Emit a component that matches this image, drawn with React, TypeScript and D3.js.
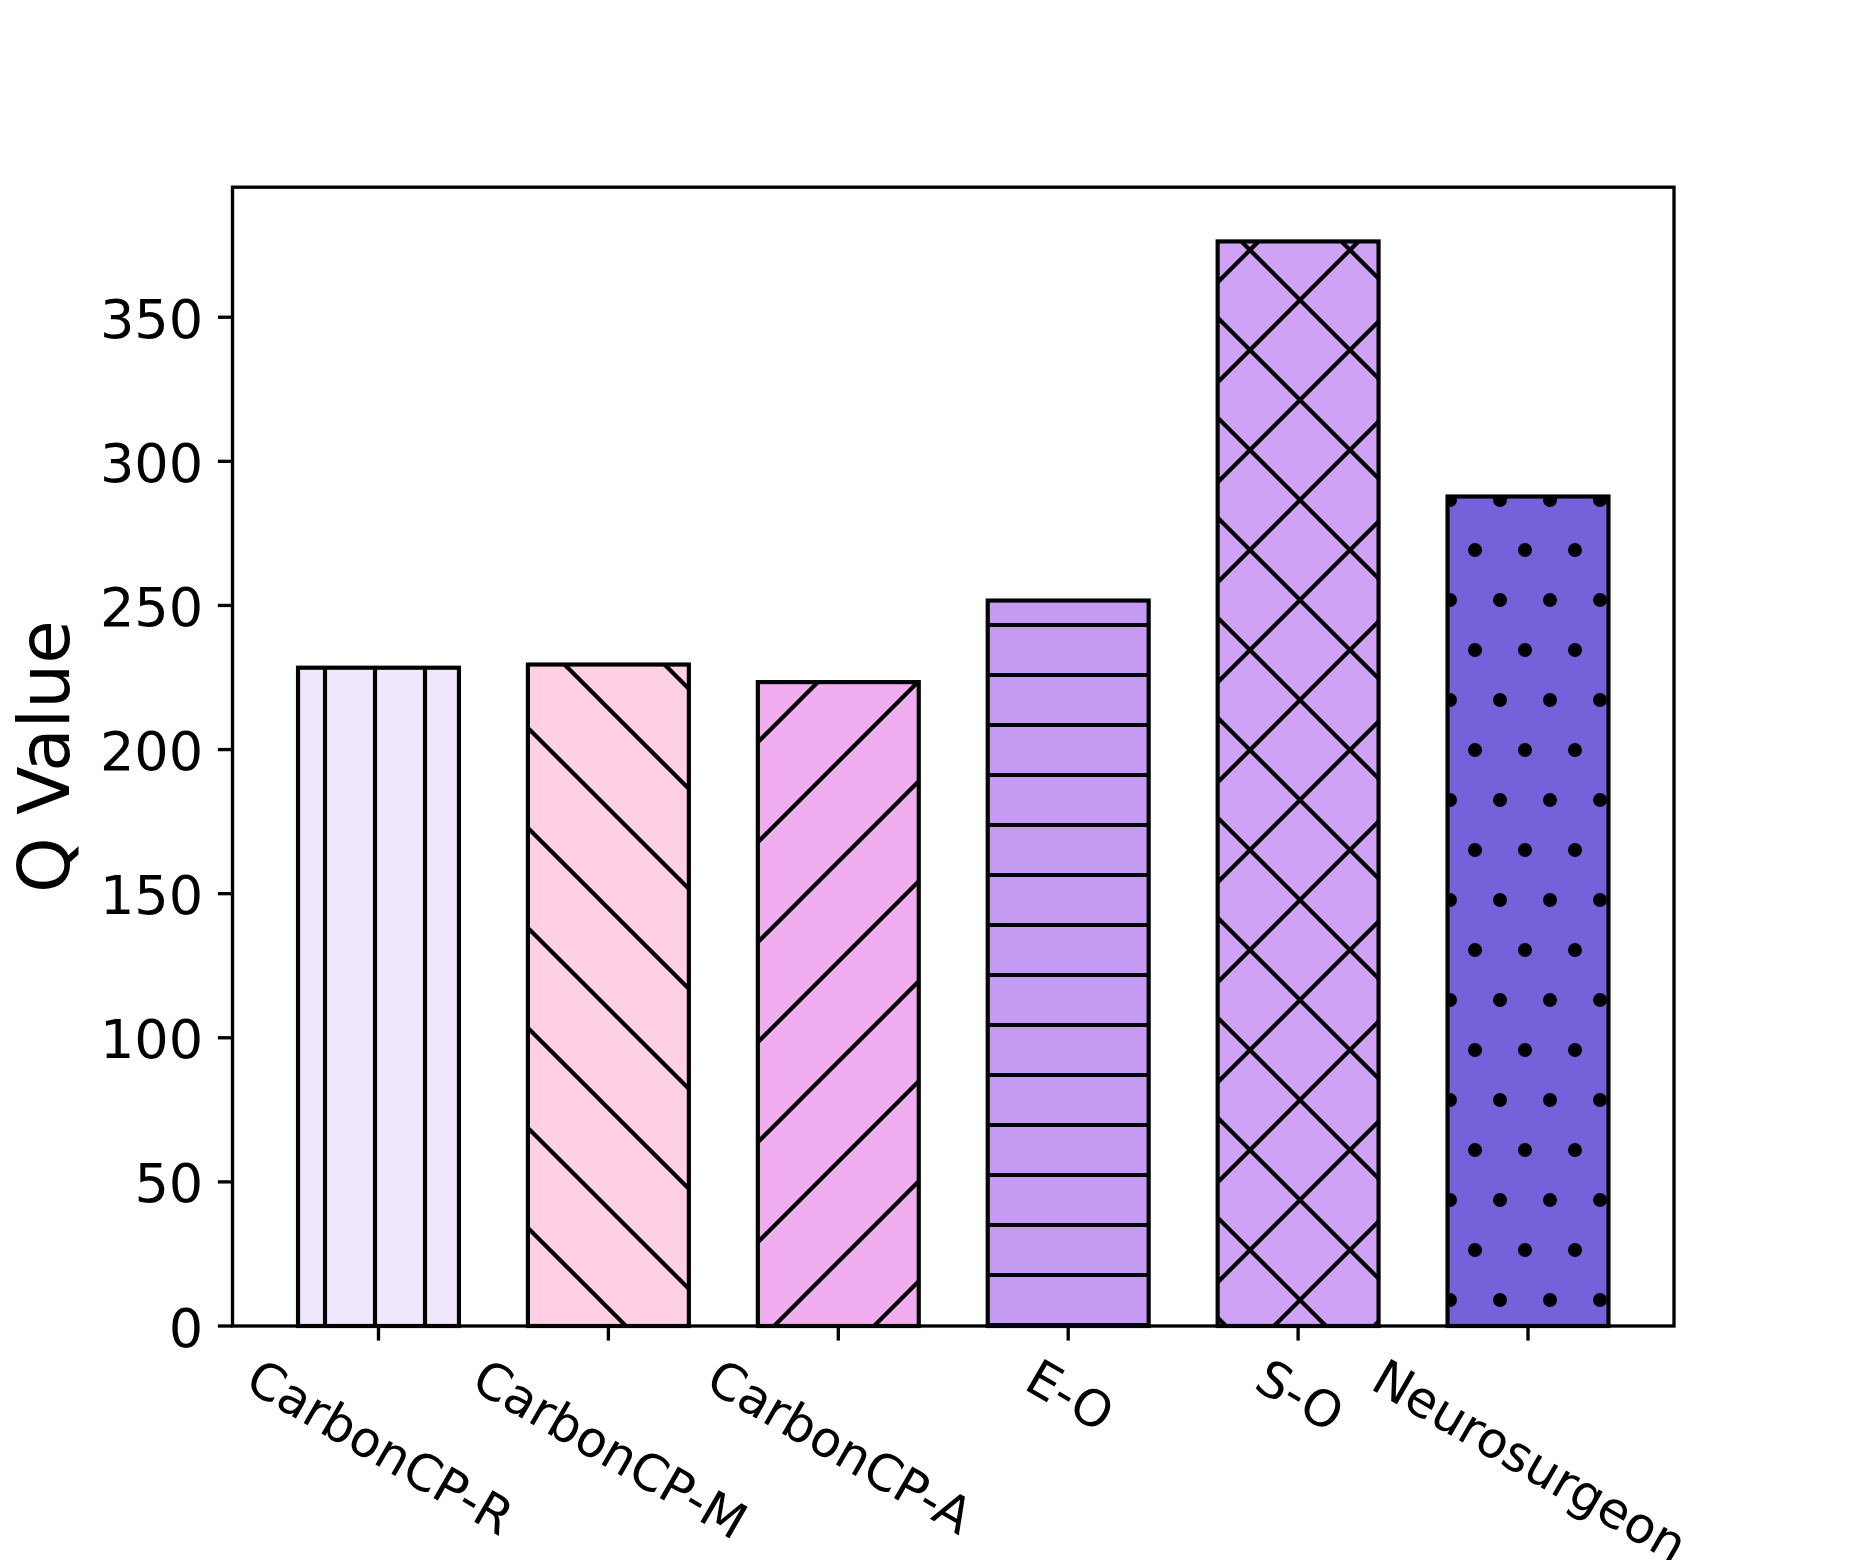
import { useEffect, useRef } from "react";
import * as d3 from "d3";

const categories = ["CarbonCP-R", "CarbonCP-M", "CarbonCP-A", "E-O", "S-O", "Neurosurgeon"];
const qValues = [228.4, 229.5, 223.4, 251.7, 376.3, 287.8];
const barColors = ["#F0E6FE", "#FFD0E4", "#F0AEF0", "#C49AF2", "#D0A2F6", "#7462DB"];
const hatches = ["|", "\\", "/", "-", "x", "."];
const yTicks = [0, 50, 100, 150, 200, 250, 300, 350];

const W = 1860;
const H = 1560;
const margin = { top: 187.2, right: 186, bottom: 234, left: 232.5 };
const pt = 300 / 72; // 1pt at 300 dpi

const addHatch = (defs: any, id: string, kind: string) => {
  const big = kind === "/" || kind === "\\" || kind === "x";
  const w = big ? 100 : 50;
  const h = big || kind === "." ? 100 : 50;
  const p = defs
    .append("pattern")
    .attr("id", id)
    .attr("patternUnits", "userSpaceOnUse")
    .attr("width", w)
    .attr("height", h);
  const seg = (x1: number, y1: number, x2: number, y2: number) =>
    p.append("line")
      .attr("x1", x1).attr("y1", y1).attr("x2", x2).attr("y2", y2)
      .attr("stroke", "#000").attr("stroke-width", pt);
  if (kind === "|") seg(25, -2, 25, 52);
  if (kind === "-") seg(-2, 25, 52, 25);
  if (kind === "/" || kind === "x") {
    seg(-50, 50, 50, -50);
    seg(-2, 102, 102, -2);
    seg(50, 150, 150, 50);
  }
  if (kind === "\\" || kind === "x") {
    seg(-50, 50, 50, 150);
    seg(-2, -2, 102, 102);
    seg(50, -50, 150, 50);
  }
  if (kind === ".") {
    [[0, 0], [50, 0], [0, 100], [50, 100], [25, 50]].forEach(([cx, cy]) =>
      p.append("circle").attr("cx", cx).attr("cy", cy).attr("r", 7).attr("fill", "#000")
    );
  }
};

export default function App() {
  const svgRef = useRef<SVGSVGElement | null>(null);

  useEffect(() => {
    if (!svgRef.current) return;
    const svg = d3.select(svgRef.current);
    svg.selectAll("*").remove();

    const x0 = margin.left;
    const x1 = W - margin.right;
    const y0 = H - margin.bottom;
    const y1 = margin.top;

    const x = d3.scaleBand<string>()
      .domain(categories)
      .range([x0, x1])
      .paddingInner(0.3)
      .paddingOuter(0.285);

    const yMax = (d3.max(qValues) ?? 0) * 1.05;
    const y = d3.scaleLinear().domain([0, yMax]).range([y0, y1]);

    const defs = svg.append("defs");
    hatches.forEach((hk, i) => addHatch(defs, `hatch${i}`, hk));

    svg.append("rect").attr("width", W).attr("height", H).attr("fill", "#fff");

    // bars: fill, hatch, edge
    categories.forEach((c, i) => {
      const bx = x(c) ?? 0;
      const by = y(qValues[i]);
      const bw = x.bandwidth();
      const bh = y0 - by;
      svg.append("rect").attr("x", bx).attr("y", by).attr("width", bw).attr("height", bh)
        .attr("fill", barColors[i]);
      svg.append("rect").attr("x", bx).attr("y", by).attr("width", bw).attr("height", bh)
        .attr("fill", `url(#hatch${i})`);
      svg.append("rect").attr("x", bx).attr("y", by).attr("width", bw).attr("height", bh)
        .attr("fill", "none").attr("stroke", "#000").attr("stroke-width", pt);
    });

    // spines
    svg.append("rect")
      .attr("x", x0).attr("y", y1).attr("width", x1 - x0).attr("height", y0 - y1)
      .attr("fill", "none").attr("stroke", "#000").attr("stroke-width", 0.8 * pt);

    const tickLen = 3.5 * pt;
    const pad = 3.5 * pt;
    const font = "DejaVu Sans";

    // y ticks
    yTicks.forEach((t) => {
      svg.append("line")
        .attr("x1", x0 - tickLen).attr("x2", x0)
        .attr("y1", y(t)).attr("y2", y(t))
        .attr("stroke", "#000").attr("stroke-width", 0.8 * pt);
      svg.append("text")
        .attr("x", x0 - tickLen - pad)
        .attr("y", y(t))
        .attr("dy", "0.38em")
        .attr("text-anchor", "end")
        .attr("font-family", font)
        .attr("font-size", 54.2)
        .attr("fill", "#000")
        .text(String(t));
    });

    // x ticks and rotated labels
    const boxH = 0.968 * 50;
    const baseOff = boxH / 2 - 0.208 * 50;
    categories.forEach((c) => {
      const cx = (x(c) ?? 0) + x.bandwidth() / 2;
      svg.append("line")
        .attr("x1", cx).attr("x2", cx)
        .attr("y1", y0).attr("y2", y0 + tickLen)
        .attr("stroke", "#000").attr("stroke-width", 0.8 * pt);
      const g = svg.append("g");
      const txt = g.append("text")
        .attr("x", 0)
        .attr("y", baseOff)
        .attr("text-anchor", "middle")
        .attr("font-family", font)
        .attr("font-size", 50)
        .attr("fill", "#000")
        .text(c);
      const tw = (txt.node() as SVGTextElement).getComputedTextLength();
      const bbH = tw * Math.sin(Math.PI / 6) + boxH * Math.cos(Math.PI / 6);
      const cy = y0 + tickLen + pad + bbH / 2;
      g.attr("transform", `translate(${cx},${cy}) rotate(30)`);
    });

    // y label
    svg.append("text")
      .attr("transform", `translate(69,${(y0 + y1) / 2}) rotate(-90)`)
      .attr("text-anchor", "middle")
      .attr("font-family", font)
      .attr("font-size", 70.8)
      .attr("fill", "#000")
      .text("Q Value");
  }, []);

  return (
    <svg
      ref={svgRef}
      width={W}
      height={H}
      style={{ position: "absolute", left: 0, top: 0, display: "block" }}
    />
  );
}
